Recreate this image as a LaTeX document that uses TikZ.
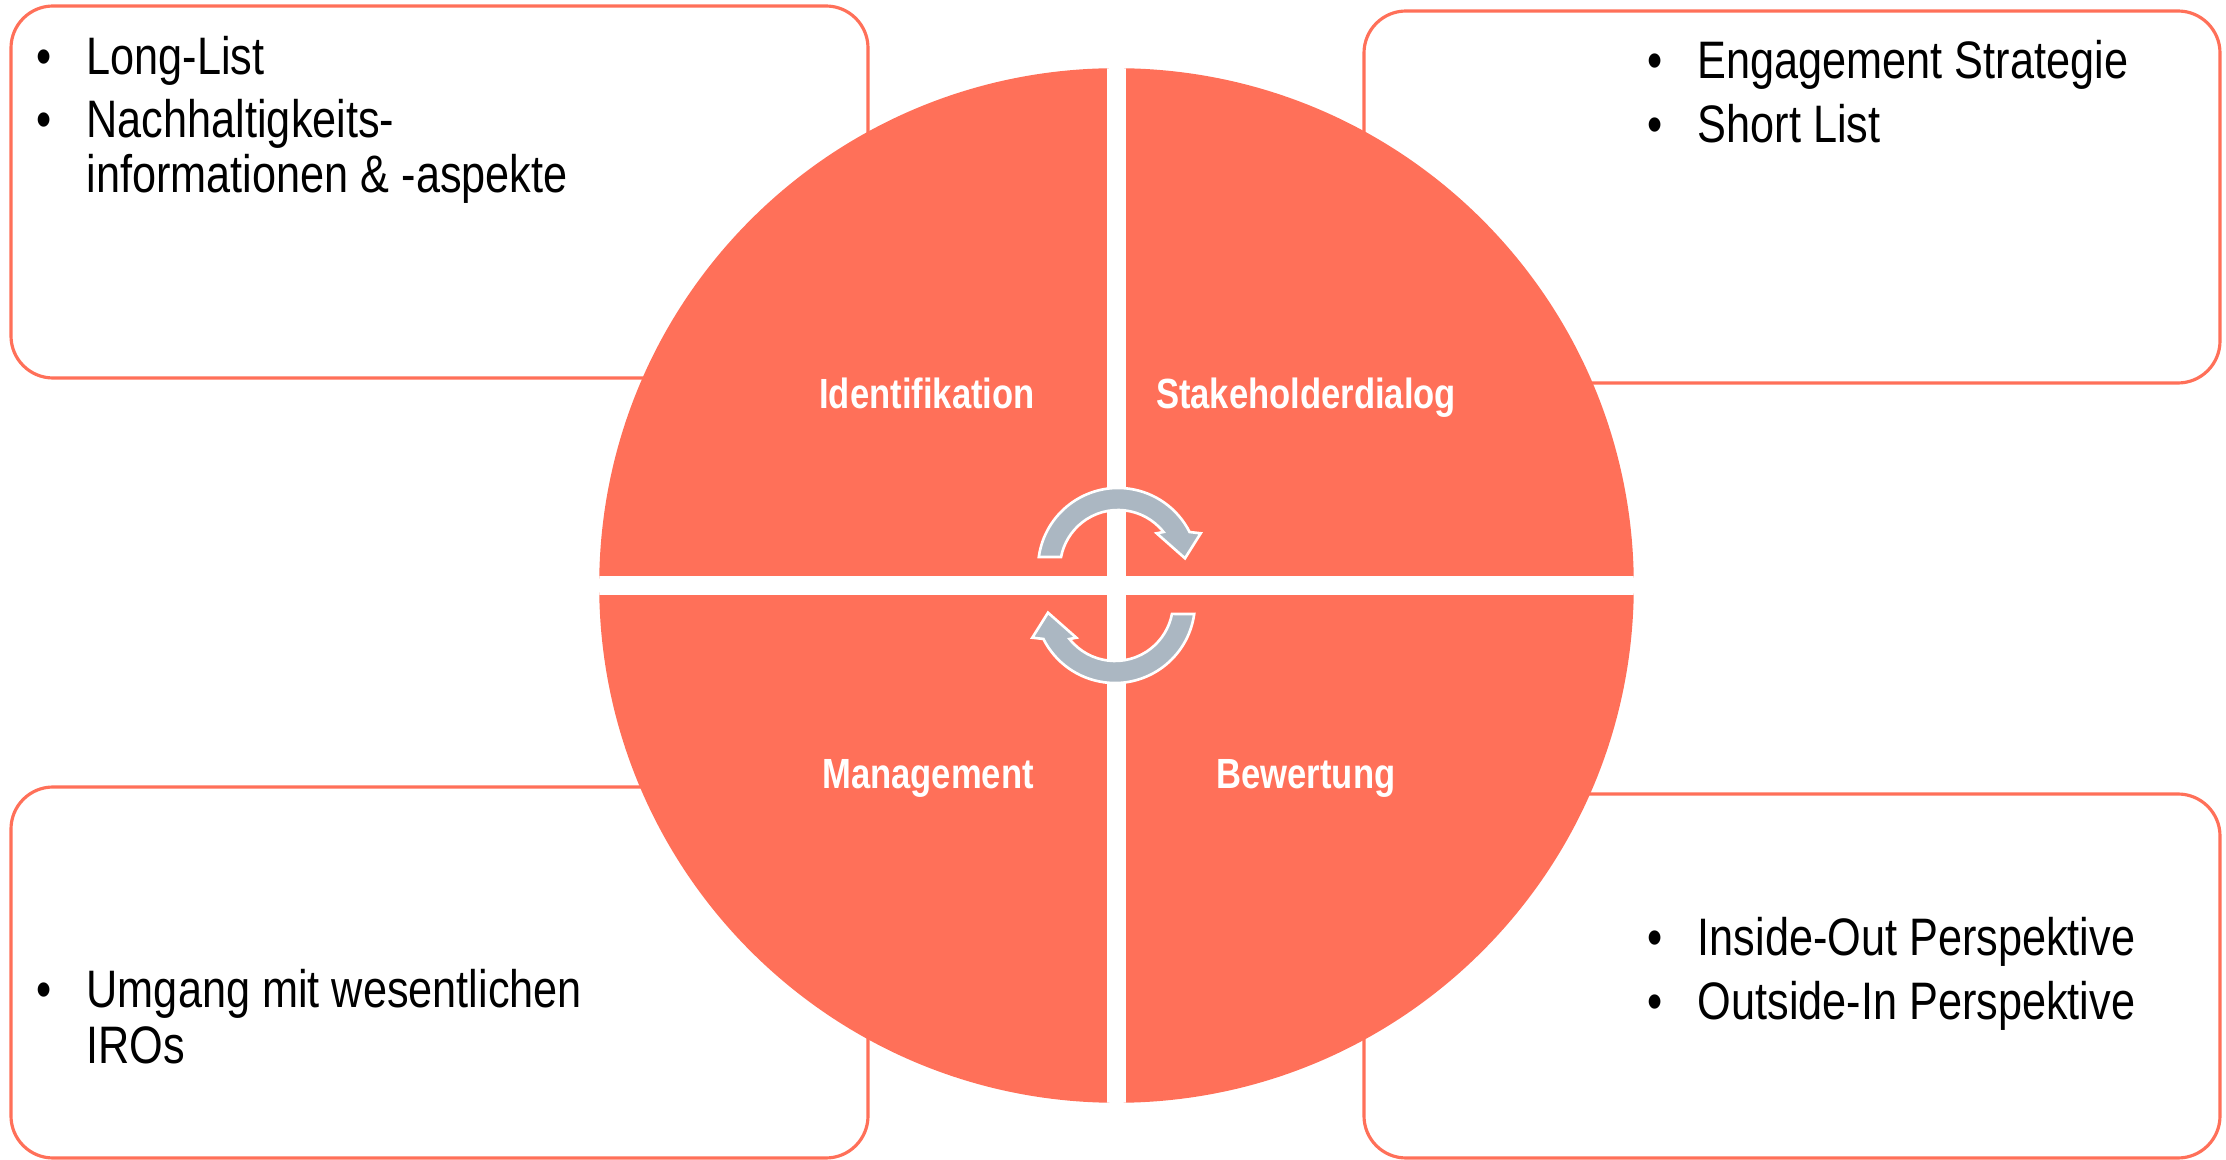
\documentclass[tikz,border=0pt]{standalone}
\usepackage{fontspec}
\setmainfont{Liberation Sans}[FakeStretch=0.82]
\definecolor{coral}{RGB}{255,112,89}
\definecolor{arrowgray}{RGB}{171,183,194}
\begin{document}
\begin{tikzpicture}[x=0.01cm,y=0.01cm,
  infobox/.style={draw=coral, line width=0.9pt, rounded corners=0.42cm, fill=white},
  bodytext/.style={anchor=base west, inner sep=0pt, text=black, font=\fontsize{15}{18}\selectfont},
  quadlabel/.style={anchor=base, inner sep=0pt, text=white, font=\bfseries\fontsize{12}{14}\selectfont},
  cyclearrow/.style={fill=arrowgray, draw=white, line width=0.75pt, line join=miter}]
\useasboundingbox (0,0) rectangle (2226,1160);

% text boxes behind the circle
\draw[infobox] (11,782) rectangle (868,1154);
\draw[infobox] (1364,777) rectangle (2220,1149);
\draw[infobox] (11,2) rectangle (868,373);
\draw[infobox] (1364,2) rectangle (2220,366);

% the circle split into four quadrants
\coordinate (mid) at (1116.5,574.5);
\fill[coral] (mid) circle[radius=5.17cm];
\begin{scope}
  \clip (mid) circle[radius=5.17cm];
  \fill[white] (1107,0) rectangle (1126,1160);
  \fill[white] (0,565) rectangle (2226,584);
\end{scope}

% quadrant labels
\node[quadlabel] (ident) at (927,751) {Identifikation};
\node[quadlabel] (stake) at (1306,751) {Stakeholderdialog};
\node[quadlabel] (manag) at (928,371) {Management};
\node[quadlabel] (bewert) at (1306,371) {Bewertung};

% circular arrows in the middle (arc centre at 1118,592)
\newcommand{\cyclepath}{%
  (1038.8,603.0) arc[start angle=172.1, end angle=26.7, radius=0.8cm]
  -- (1200.7,626.7) -- (1185,601.7) -- (1156.7,626.7)
  -- (1163.5,628.0) arc[start angle=38.4, end angle=169.1, radius=0.58cm]
  -- cycle}
\draw[cyclearrow] \cyclepath;
\begin{scope}[rotate around={180:(1116.5,574.5)}]
  \draw[cyclearrow] \cyclepath;
\end{scope}

% top left box
\node[bodytext] (tlb1) at (36,1085) {\textbullet};
\node[bodytext] (tl1) at (86,1085) {Long-List};
\node[bodytext] (tlb2) at (36,1022) {\textbullet};
\node[bodytext] (tl2a) at (86,1022) {Nachhaltigkeits-};
\node[bodytext] (tl2b) at (86,967) {informationen \& -aspekte};

% top right box
\node[bodytext] (trb1) at (1647,1081) {\textbullet};
\node[bodytext] (tr1) at (1697,1081) {Engagement Strategie};
\node[bodytext] (trb2) at (1647,1017) {\textbullet};
\node[bodytext] (tr2) at (1697,1017) {Short List};

% bottom left box
\node[bodytext] (blb1) at (36,152) {\textbullet};
\node[bodytext] (bl1a) at (86,152) {Umgang mit wesentlichen};
\node[bodytext] (bl1b) at (86,97) {IROs};

% bottom right box
\node[bodytext] (brb1) at (1647,204) {\textbullet};
\node[bodytext] (br1) at (1697,204) {Inside-Out Perspektive};
\node[bodytext] (brb2) at (1647,140) {\textbullet};
\node[bodytext] (br2) at (1697,140) {Outside-In Perspektive};
\end{tikzpicture}
\end{document}
